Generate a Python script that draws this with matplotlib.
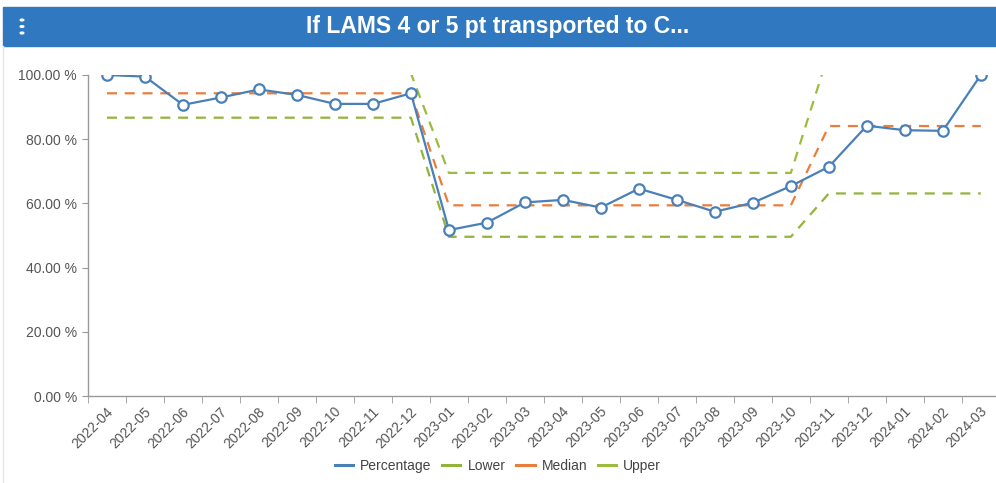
import numpy as np
import matplotlib.pyplot as plt
from matplotlib.patches import Rectangle
from matplotlib.lines import Line2D
import matplotlib.transforms as mtransforms

months = ["2022-04", "2022-05", "2022-06", "2022-07", "2022-08", "2022-09",
          "2022-10", "2022-11", "2022-12", "2023-01", "2023-02", "2023-03",
          "2023-04", "2023-05", "2023-06", "2023-07", "2023-08", "2023-09",
          "2023-10", "2023-11", "2023-12", "2024-01", "2024-02", "2024-03"]

percentage = [100.0, 99.5, 90.7, 93.0, 95.5, 93.8, 91.0, 91.0, 94.3,
              51.7, 54.0, 60.3, 61.1, 58.7, 64.6, 61.1, 57.4, 60.2,
              65.4, 71.4, 84.2, 82.8, 82.6, 100.0]
lower = [86.7] * 9 + [49.6] * 10 + [63.1] * 5
median = [94.3] * 9 + [59.4] * 10 + [84.1] * 5
upper = [100.5] * 9 + [69.5] * 10 + [107.0] * 5

c_pct = "#4a80b8"
c_low = "#93b43a"
c_med = "#ea7d3c"
c_up = "#9dbb3e"

plt.rcParams['font.family'] = ['Liberation Sans', 'DejaVu Sans']

fig = plt.figure(figsize=(9.96, 4.83), dpi=100)
ax = fig.add_axes([88 / 996, 87 / 483, 1 - 88 / 996, 321 / 483])

x = np.arange(len(months))
dash = (0, (4.5, 3.5))
ax.plot(x, lower, color=c_low, lw=1.6, linestyle=dash, zorder=2)
ax.plot(x, median, color=c_med, lw=1.6, linestyle=dash, zorder=2)
ax.plot(x, upper, color=c_up, lw=1.6, linestyle=dash, zorder=2)
ax.plot(x, percentage, color=c_pct, lw=1.6, marker="o", markersize=7.5,
        markerfacecolor="white", markeredgecolor=c_pct, markeredgewidth=1.6,
        zorder=3)

ax.set_xlim(-0.5, 23.4)
ax.set_ylim(0, 100)

ax.set_yticks(np.arange(0, 101, 20))
ax.set_yticklabels(["%.2f %%" % v for v in np.arange(0, 101, 20)])
ax.tick_params(axis="y", length=4, color="#999999", labelsize=10,
               labelcolor="#555555", pad=4)

# labels sit under each month, tick marks at the month boundaries
ax.set_xticks(x)
ax.set_xticklabels(months, rotation=45, ha="right")
ax.set_xticks(np.arange(-0.5, 23.5, 1), minor=True)
ax.tick_params(axis="x", which="major", length=0, labelsize=10,
               labelcolor="#555555", pad=6)
ax.tick_params(axis="x", which="minor", length=5, color="#999999")
offset = mtransforms.ScaledTranslation(9 / 100, 0, fig.dpi_scale_trans)
for lab in ax.get_xticklabels():
    lab.set_transform(lab.get_transform() + offset)

for side in ["top", "right"]:
    ax.spines[side].set_visible(False)
for side in ["left", "bottom"]:
    ax.spines[side].set_color("#999999")
    ax.spines[side].set_linewidth(1.0)

handles = [Line2D([], [], color=c, lw=2.2) for c in [c_pct, c_low, c_med, c_up]]
fig.legend(handles, ["Percentage", "Lower", "Median", "Upper"], loc="center",
           bbox_to_anchor=(0.5, 1 - 466 / 483), ncol=4, frameon=False,
           fontsize=10, handlelength=1.3, handletextpad=0.5, columnspacing=0.8,
           labelcolor="#444444")

# card header
fig.patches.append(Rectangle((3 / 996, 1 - 46 / 483), 993 / 996, 39 / 483,
                             transform=fig.transFigure, color="#3079c1",
                             zorder=0))
fig.text(0.5, 1 - 27 / 483, "If LAMS 4 or 5 pt transported to C...",
         ha="center", va="center", color="white", fontsize=16.5,
         fontweight="bold")
for yy in [20, 26.5, 33]:
    fig.patches.append(plt.Circle((22 / 996, 1 - yy / 483), 1.8 / 996,
                                  transform=fig.transFigure, color="white"))
fig.lines.append(Line2D([3 / 996, 3 / 996], [0, 1 - 46 / 483],
                        transform=fig.transFigure, color="#e6e6e6", lw=1))

fig.savefig("out.png", dpi=100)
